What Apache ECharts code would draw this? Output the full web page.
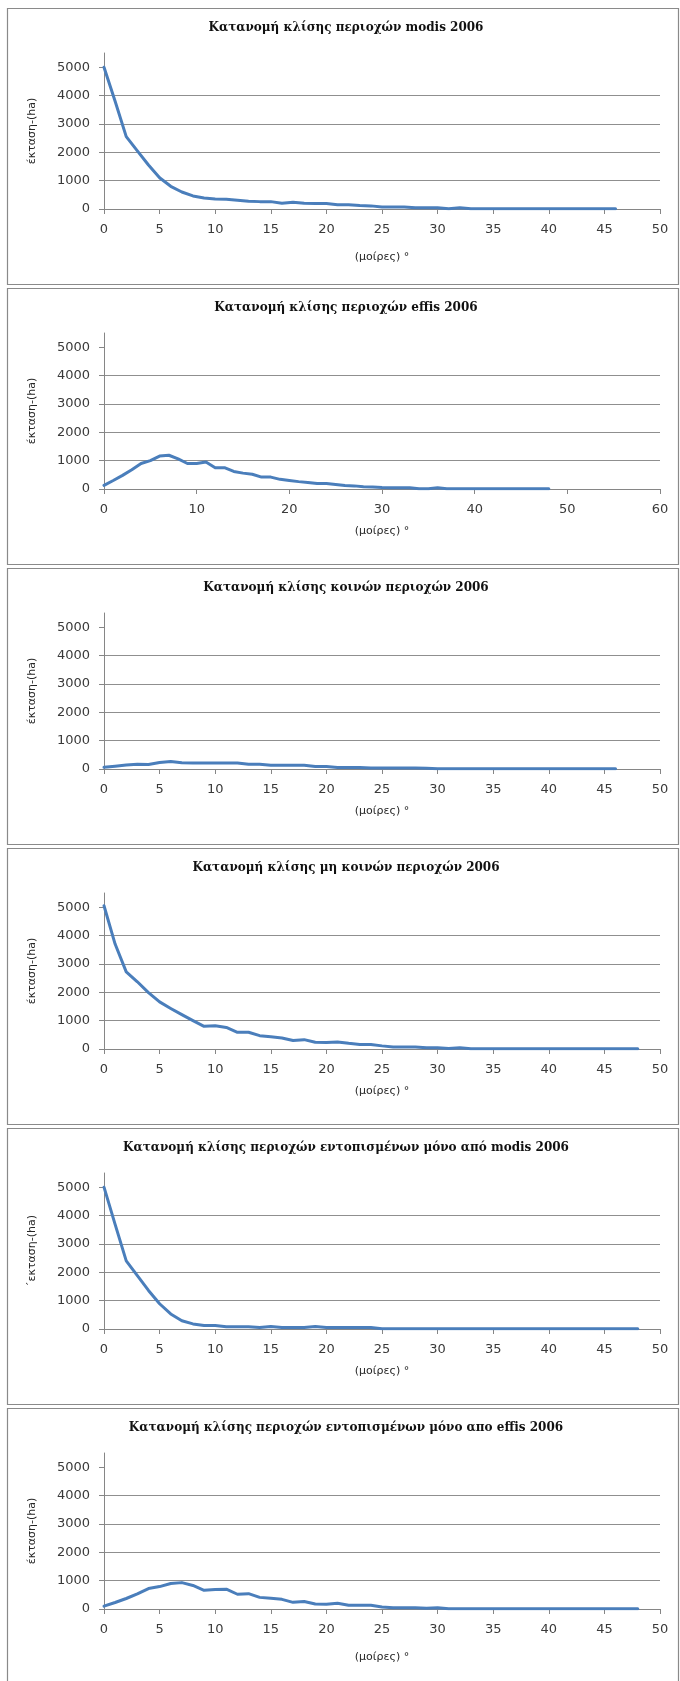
<!DOCTYPE html>
<html>
<head>
<meta charset="utf-8">
<title>Κατανομή κλίσης περιοχών 2006</title>
<script src="https://cdn.jsdelivr.net/npm/echarts@6/dist/echarts.min.js"></script>
<style>
  html, body { margin: 0; padding: 0; background: #ffffff; }
  #chart { width: 680px; height: 1681px; }
</style>
</head>
<body>
<div id="chart"></div>
<script>
// Panel titles and axis names
const panelTitles = [
  'Κατανομή κλίσης περιοχών modis 2006',
  'Κατανομή κλίσης περιοχών effis 2006',
  'Κατανομή κλίσης κοινών περιοχών 2006',
  'Κατανομή κλίσης μη κοινών περιοχών 2006',
  'Κατανομή κλίσης περιοχών εντοπισμένων μόνο από modis 2006',
  'Κατανομή κλίσης περιοχών εντοπισμένων μόνο απο effis 2006'
];
const yAxisNames = [
  'έκταση-(ha)', 'έκταση-(ha)', 'έκταση-(ha)',
  'έκταση-(ha)', '΄εκταση-(ha)', 'έκταση-(ha)'
];
const xAxisName = '(μοίρες) °';

// Axis ranges (degrees on x, hectares on y)
const xMaxes = [50, 60, 50, 50, 50, 50];
const xSteps = [5, 10, 5, 5, 5, 5];
const yTickValues = [0, 1000, 2000, 3000, 4000, 5000];
const yMax = 5500;

// Area (ha) per slope degree, starting at 0°
const modisArea = [
  5000, 3800, 2550, 2050, 1550, 1100, 800, 600, 460, 390,
  350, 340, 310, 270, 260, 260, 200, 240, 200, 190,
  190, 150, 150, 120, 110, 70, 70, 70, 40, 40,
  40, 10, 40, 10, 10, 5, 5, 10, 5, 5,
  5, 5, 5, 5, 5, 5, 5
];
const effisArea = [
  130, 300, 480, 680, 900, 1000, 1160, 1190, 1060, 900,
  900, 950, 750, 750, 620, 560, 520, 420, 420, 340,
  300, 260, 230, 190, 190, 160, 120, 110, 80, 70,
  50, 40, 40, 40, 10, 10, 40, 10, 10, 5,
  5, 5, 5, 5, 5, 5, 5, 5, 5
];
const commonArea = [
  60, 100, 140, 170, 160, 230, 265, 220, 215, 215,
  215, 215, 215, 170, 170, 135, 135, 135, 130, 90,
  85, 55, 50, 50, 35, 35, 35, 35, 35, 30,
  5, 5, 5, 5, 5, 5, 5, 5, 5, 5,
  5, 5, 5, 5, 5, 5, 5
];
const nonCommonArea = [
  5050, 3700, 2720, 2370, 1990, 1660, 1430, 1210, 1000, 800,
  820, 760, 590, 590, 470, 430, 390, 300, 330, 240,
  230, 250, 200, 160, 160, 110, 70, 70, 70, 40,
  40, 20, 40, 10, 10, 5, 5, 5, 5, 5,
  5, 5, 5, 5, 5, 5, 5, 5, 5
];
const modisOnlyArea = [
  5000, 3690, 2400, 1880, 1360, 890, 530, 290, 180, 120,
  120, 80, 80, 80, 50, 90, 50, 50, 50, 90,
  50, 50, 50, 50, 50, 10, 10, 10, 10, 10,
  5, 5, 5, 5, 5, 5, 5, 5, 5, 5,
  5, 5, 5, 5, 5, 5, 5, 5, 5
];
const effisOnlyArea = [
  100, 230, 370, 530, 720, 790, 900, 930, 830, 660,
  690, 700, 520, 540, 410, 375, 340, 235, 265, 175,
  165, 200, 130, 130, 130, 70, 45, 45, 45, 25,
  45, 5, 5, 5, 5, 5, 5, 5, 5, 5,
  5, 5, 5, 5, 5, 5, 5, 5, 5
];
const panelSeries = [modisArea, effisArea, commonArea, nonCommonArea, modisOnlyArea, effisOnlyArea];

// Page layout: six stacked framed panels
const PANEL_STEP = 280;
const FIRST_TOP = 8;
const FRAME_LEFT = 7.5;
const FRAME_WIDTH = 671;
const FRAME_HEIGHT = 276;
const PLOT_LEFT = 104;
const PLOT_WIDTH = 556;
const xNameGaps = [43, 37, 37, 37, 37, 43];

const AXIS_GRAY = '#868686';
const GRID_GRAY = '#8f8f8f';
const LABEL_COLOR = '#3a3a3a';
const LINE_BLUE = '#4a7ebb';
const SANS = '"DejaVu Sans", "Noto Sans", sans-serif';
const SERIF = '"DejaVu Serif", "Liberation Serif", serif';

const grids = [], xAxes = [], yAxes = [], series = [], graphics = [];

panelSeries.forEach((values, i) => {
  const top = FIRST_TOP + i * PANEL_STEP;

  graphics.push({
    type: 'rect',
    silent: true,
    shape: { x: FRAME_LEFT, y: top + 0.5, width: FRAME_WIDTH, height: FRAME_HEIGHT },
    style: { fill: 'none', stroke: '#8a8a8a', lineWidth: 1.2 }
  });
  graphics.push({
    type: 'text',
    silent: true,
    x: 346,
    y: top + 20,
    style: {
      text: panelTitles[i],
      font: 'bold 12px ' + SERIF,
      fill: '#111111',
      align: 'center',
      verticalAlign: 'middle',
      textAlign: 'center',
      textVerticalAlign: 'middle'
    }
  });

  grids.push({ left: PLOT_LEFT, width: PLOT_WIDTH, top: top + 45, height: 156, containLabel: false });

  xAxes.push({
    gridIndex: i,
    type: 'value',
    min: 0,
    max: xMaxes[i],
    interval: xSteps[i],
    name: xAxisName,
    nameLocation: 'middle',
    nameGap: xNameGaps[i],
    nameTextStyle: { fontFamily: SANS, fontSize: 11, color: '#262626' },
    axisLine: { show: true, lineStyle: { color: AXIS_GRAY, width: 1 } },
    axisTick: { show: true, inside: false, length: 5, lineStyle: { color: AXIS_GRAY } },
    axisLabel: { margin: 14, fontFamily: SANS, fontSize: 13, color: LABEL_COLOR, showMinLabel: true, showMaxLabel: true },
    splitLine: { show: false }
  });

  yAxes.push({
    gridIndex: i,
    type: 'value',
    min: 0,
    max: yMax,
    interval: 1000,
    name: yAxisNames[i],
    nameLocation: 'middle',
    nameRotate: 90,
    nameGap: 66,
    nameTextStyle: { fontFamily: SANS, fontSize: 11, color: '#262626' },
    axisLine: { show: true, lineStyle: { color: AXIS_GRAY, width: 1 } },
    axisTick: { show: true, inside: false, length: 5, lineStyle: { color: AXIS_GRAY }, customValues: yTickValues },
    axisLabel: {
      margin: 14, fontFamily: SANS, fontSize: 13, color: LABEL_COLOR,
      customValues: yTickValues,
      formatter: v => (v > 5000 ? '' : String(v))
    },
    splitLine: { show: true, showMaxLine: false, lineStyle: { color: GRID_GRAY, width: 1 } }
  });

  series.push({
    type: 'line',
    xAxisIndex: i,
    yAxisIndex: i,
    data: values.map((v, deg) => [deg, v]),
    showSymbol: false,
    symbol: 'none',
    smooth: false,
    lineStyle: { color: LINE_BLUE, width: 3, cap: 'round', join: 'round' },
    emphasis: { disabled: true }
  });
});

const chart = echarts.init(document.getElementById('chart'), null, { renderer: 'canvas' });
chart.setOption({
  animation: false,
  backgroundColor: '#ffffff',
  grid: grids,
  xAxis: xAxes,
  yAxis: yAxes,
  series: series,
  graphic: graphics
});
</script>
</body>
</html>
